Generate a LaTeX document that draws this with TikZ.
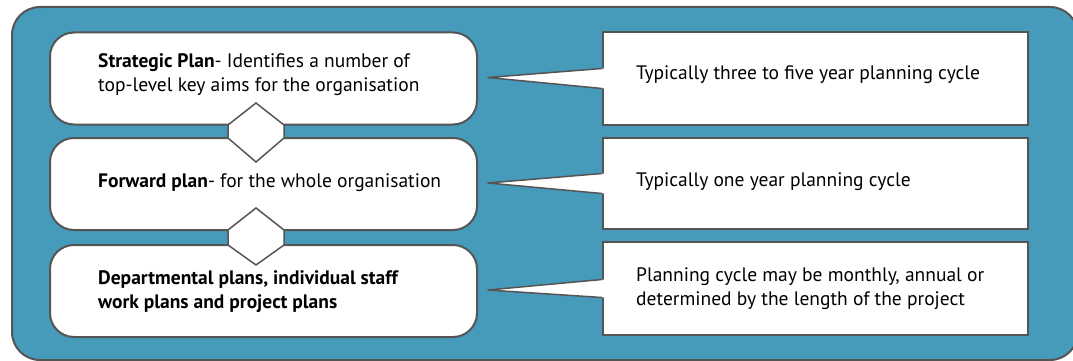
\documentclass[tikz,border=0pt]{standalone}
\usepackage{fontspec}
\setmainfont{PT Sans}
\usetikzlibrary{calc}
\definecolor{bluebg}{RGB}{70,154,186}
\definecolor{edge}{RGB}{85,85,85}
\begin{document}
\begin{tikzpicture}[x=1pt,y=-1pt,
 lbox/.style={draw=edge,line width=2pt,fill=white,rounded corners=24pt,minimum width=427pt,minimum height=92pt,inner sep=0pt},
 rbox/.style={draw=edge,line width=2pt,fill=white,minimum width=425pt,minimum height=92pt,inner sep=0pt},
 txt/.style={anchor=west,align=left,font=\fontsize{19.5}{24}\selectfont,inner sep=0pt},
 btxt/.style={txt,font=\fontsize{19.5}{24}\selectfont\bfseries},
 link/.style={draw=edge,line width=1.5pt,fill=white,line join=miter},
 wedge/.style={draw=edge,line width=1.5pt,line join=round}]
\useasboundingbox (0,0) rectangle (1073,361);
\begin{scope}
\clip (0,0) rectangle (1073,361);
\draw[fill=bluebg,draw=edge,line width=2pt,rounded corners=28pt] (12,7) rectangle (1078,360);
\end{scope}
% left boxes
\node[lbox] (s1) at (263.5,78.5) {};
\node[lbox] (s2) at (263.5,184) {};
\node[lbox] (s3) at (263.5,291) {};
% connectors between left boxes
\draw[link] (256,103) -- (284,125) -- (284,138) -- (256,162) -- (228,138) -- (228,125) -- cycle;
\draw[link] (256,208) -- (284,230) -- (284,245) -- (256,265) -- (228,245) -- (228,230) -- cycle;
% right boxes
\node[rbox,minimum height=93pt] (r1) at (815.5,78.5) {};
\node[rbox,minimum height=91pt] (r2) at (815.5,183.5) {};
\node[rbox,minimum height=93pt] (r3) at (815.5,288.5) {};
% callout wedges
\fill[white] ($(r1.west)+(3,-10)$) -- ($(s1.east)+(10,-1)$) -- ($(r1.west)+(3,10)$) -- cycle;
\draw[wedge] ($(r1.west)+(0,-10)$) -- ($(s1.east)+(10,-1)$) -- ($(r1.west)+(0,10)$);
\fill[white] ($(r2.west)+(3,-10)$) -- ($(s2.east)+(10,-1)$) -- ($(r2.west)+(3,10)$) -- cycle;
\draw[wedge] ($(r2.west)+(0,-10)$) -- ($(s2.east)+(10,-1)$) -- ($(r2.west)+(0,10)$);
\fill[white] ($(r3.west)+(3,-9)$) -- ($(s3.east)+(10,-1)$) -- ($(r3.west)+(3,9)$) -- cycle;
\draw[wedge] ($(r3.west)+(0,-9)$) -- ($(s3.east)+(10,-1)$) -- ($(r3.west)+(0,9)$);
% texts
\node[txt] (t1) at (98,75) {\textbf{Strategic Plan}- Identifies a number of\\top-level key aims for the organisation};
\node[txt] (t2) at (98,183) {\textbf{Forward plan}- for the whole organisation};
\node[btxt] (t3) at (98,292) {Departmental plans, individual staff\\work plans and project plans};
\node[txt] (u1) at (636,75) {Typically three to five year planning cycle};
\node[txt] (u2) at (636,182) {Typically one year planning cycle};
\node[txt] (u3) at (636,289) {Planning cycle may be monthly, annual or\\determined by the length of the project};
\end{tikzpicture}
\end{document}
